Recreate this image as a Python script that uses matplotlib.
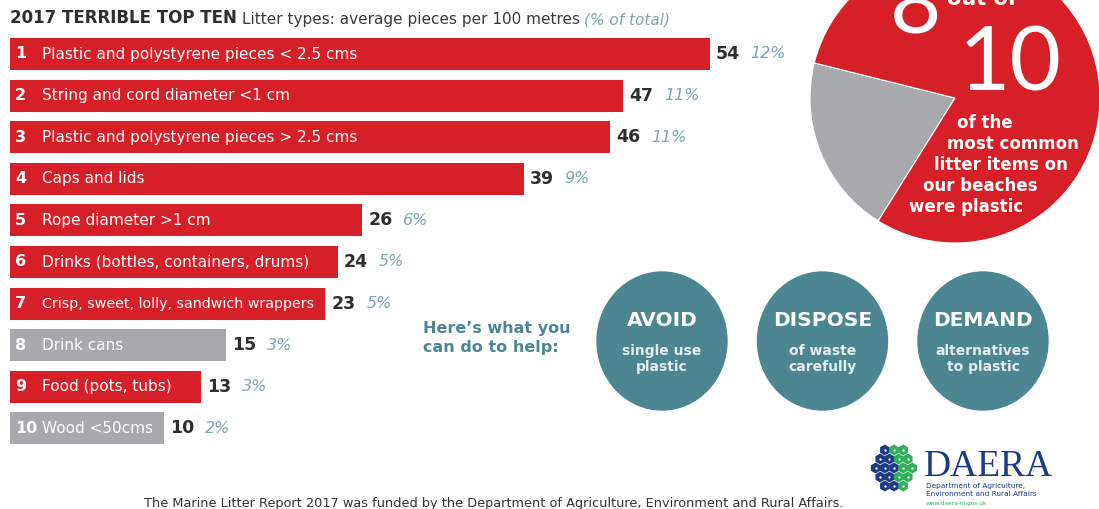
import matplotlib
matplotlib.use("Agg")
import matplotlib.pyplot as plt
from matplotlib.patches import Ellipse
import numpy as np

# Data ----------------
ranks = list(range(1, 11))
items = ["Plastic and polystyrene pieces < 2.5 cms",
         "String and cord diameter <1 cm",
         "Plastic and polystyrene pieces > 2.5 cms",
         "Caps and lids",
         "Rope diameter >1 cm",
         "Drinks (bottles, containers, drums)",
         "Crisp, sweet, lolly, sandwich wrappers",
         "Drink cans",
         "Food (pots, tubs)",
         "Wood <50cms"]
pieces = [54, 47, 46, 39, 26, 24, 23, 15, 13, 10]
share = [12, 11, 11, 9, 6, 5, 5, 3, 3, 2]
is_plastic = [True, True, True, True, True, True, True, False, True, False]

actions = ["AVOID", "DISPOSE", "DEMAND"]
action_notes = ["single use\nplastic", "of waste\ncarefully", "alternatives\nto plastic"]

# Colours ----------------
RED = "#d71f27"
GREY = "#a8a9ac"
TEAL = "#4c8692"
PCT = "#7fa7b2"
DARK = "#2e2e2e"
NAVY = "#1d3a84"
GREEN = "#2fae5a"

W, H = 1099, 509
fig = plt.figure(figsize=(W / 100, H / 100), dpi=100)
fig.patch.set_facecolor("white")

# Bar chart ----------------
PX = 12.4      # pixels per piece
ZERO = 40      # pixel where zero falls
ROW0, STEP = 54, 41.6
ax = fig.add_axes([0, 0, 1, 1])
ax.set_xlim(-ZERO / PX, (W - ZERO) / PX)
ax.set_ylim((H - ROW0) / STEP, -ROW0 / STEP)
ax.axis("off")

base = (10 - ZERO) / PX
y = np.arange(len(pieces))
colors = [RED if p else GREY for p in is_plastic]
ax.barh(y, np.array(pieces) - base, left=base, height=0.77, color=colors)

labels = []
for i in range(len(pieces)):
    ax.annotate(str(ranks[i]), (base, i), xytext=(5, 0), textcoords="offset pixels",
                va="center", ha="left", color="white", fontweight="bold", fontsize=11.5)
    t = ax.annotate(items[i], (base, i), xytext=(32, 0), textcoords="offset pixels",
                    va="center", ha="left", color="white", fontsize=11)
    labels.append(t)
    ax.annotate(str(pieces[i]), (pieces[i], i), xytext=(6, 0), textcoords="offset pixels",
                va="center", ha="left", color=DARK, fontweight="bold", fontsize=12.5)
    ax.annotate(f"{share[i]}%", (pieces[i], i), xytext=(41, 0), textcoords="offset pixels",
                va="center", ha="left", color=PCT, style="italic", fontsize=11.5)

# shrink labels that run past their bar
fig.canvas.draw()
renderer = fig.canvas.get_renderer()
for i, t in enumerate(labels):
    end = ax.transData.transform((pieces[i], i))[0]
    while t.get_window_extent(renderer).x1 > end - 5 and t.get_fontsize() > 6:
        t.set_fontsize(t.get_fontsize() - 0.25)

# Pie: 8 out of 10 ----------------
cx, cy, r = 955, 98, 145
pax = fig.add_axes([(cx - r) / W, (H - cy - r) / H, 2 * r / W, 2 * r / H])
n_plastic = sum(is_plastic)
pax.pie([len(is_plastic) - n_plastic, n_plastic], colors=[GREY, RED], startangle=166,
        wedgeprops=dict(edgecolor="white", linewidth=0.8))
pax.set_xlim(-1, 1)
pax.set_ylim(-1, 1)

# Overlay in pixel coordinates ----------------
ov = fig.add_axes([0, 0, 1, 1], zorder=5)
ov.set_xlim(0, W)
ov.set_ylim(H, 0)
ov.axis("off")
ov.patch.set_alpha(0)

big = dict(color="white", family="Lato", fontweight="normal", fontsize=64,
           ha="center", va="baseline")
ov.text(916, 33, str(n_plastic), **big)
ov.text(1010, 90, str(len(is_plastic)), **big)
ov.text(982, 5, "out of", color="white", fontweight="bold", fontsize=15,
        ha="center", va="baseline")
pie_lines = [("of the", 985, 123), ("most common", 1013, 144), ("litter items on", 1001, 165),
             ("our beaches", 980, 186), ("were plastic", 966, 207)]
for s, x, yy in pie_lines:
    ov.text(x, yy, s, color="white", fontweight="bold", fontsize=12, ha="center", va="center")

# Title
t1 = ov.text(10, 27, "2017 TERRIBLE TOP TEN", fontweight="bold", fontsize=12,
             color=DARK, va="bottom")
t2 = ov.annotate("Litter types: average pieces per 100 metres", (1, 0), xycoords=t1,
                 xytext=(5, 0), textcoords="offset pixels", fontsize=11, color="#3a3a3a",
                 va="bottom")
ov.annotate("(% of total)", (1, 0), xycoords=t2, xytext=(4, 0), textcoords="offset pixels",
            fontsize=11, color=PCT, style="italic", va="bottom")

# Help circles
ov.text(423, 338, "Here\u2019s what you\ncan do to help:", color=TEAL, fontweight="bold",
        fontsize=11.5, ha="left", va="center", linespacing=1.35)
for k, (name, note) in enumerate(zip(actions, action_notes)):
    xk = 662 + 160.5 * k
    ov.add_patch(Ellipse((xk, 341), 130, 138, color=TEAL))
    ov.text(xk, 320, name, color="white", fontweight="bold", fontsize=14.5,
            ha="center", va="center")
    ov.text(xk, 359, note, color="#e3eef0", fontweight="bold", fontsize=10,
            ha="center", va="center", linespacing=1.2)

# Footer
ov.text(494, 503, "The Marine Litter Report 2017 was funded by the Department of Agriculture, "
        "Environment and Rural Affairs.", fontsize=9.3, color="#333333", ha="center", va="center")

# DAERA logo
hx, hy = [], []
for j, n in enumerate([3, 4, 5, 4, 3]):
    for m in range(n):
        hx.append(894 + (m - (n - 1) / 2) * 9.2)
        hy.append(450 + j * 9.0)
hx, hy = np.array(hx), np.array(hy)
hcol = [GREEN if (a - 893) - (b - 466) * 0.5 > 0 else NAVY for a, b in zip(hx, hy)]
ov.scatter(hx, hy, s=62, marker="h", c=hcol, linewidths=0)
ov.scatter(hx, hy, s=3, c="white", linewidths=0)
ov.text(924, 476, "DAERA", family="Liberation Serif", fontsize=27, color=NAVY, va="baseline")
ov.text(926, 488, "Department of Agriculture,", fontsize=5.3, color=NAVY, va="baseline")
ov.text(926, 496, "Environment and Rural Affairs", fontsize=5.3, color=NAVY, va="baseline")
ov.text(926, 505, "www.daera-ni.gov.uk", fontsize=4.2, color=GREEN, va="baseline")

fig.savefig("out.png", dpi=100)
